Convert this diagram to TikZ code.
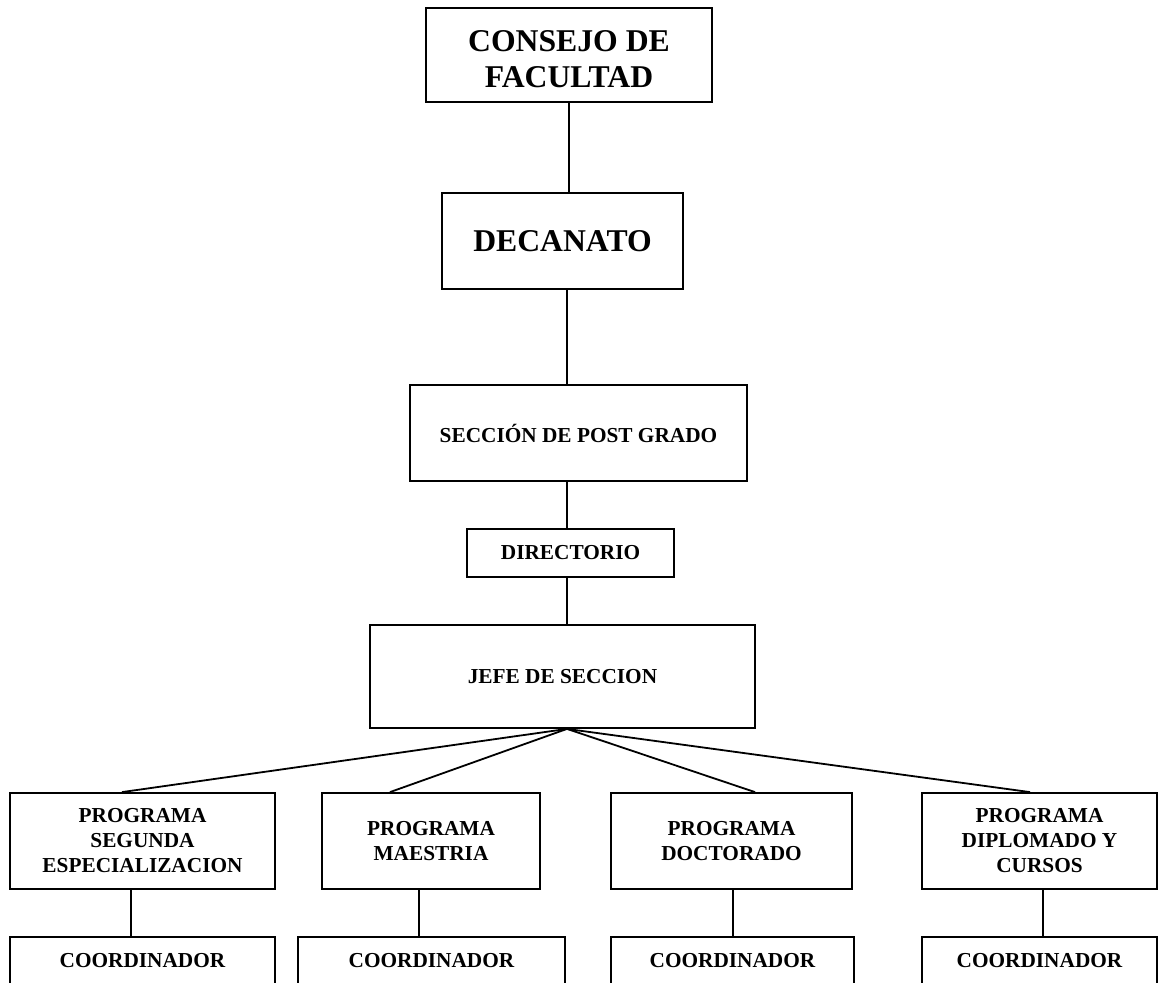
\documentclass[tikz,border=0pt]{standalone}
\usepackage{fontspec}
\setmainfont{Liberation Serif}
\tikzstyle{caja}=[draw,line width=1.8pt,inner sep=0pt,align=center,font=\bfseries\fontsize{21.3}{25}\selectfont]
\tikzstyle{grande}=[font=\bfseries\fontsize{31.7}{36}\selectfont]
\tikzstyle{linea}=[line width=1.8pt]

\begin{document}
\begin{tikzpicture}[x=1pt,y=-1pt]
  \useasboundingbox (0,0) rectangle (1158,982);
  \clip (0,0) rectangle (1158,982);
  \coordinate (eje) at (567,0);

  % cadena central
  \node[caja,grande,minimum width=286pt,minimum height=94pt] (consejo) at (569,55) {\rule{0pt}{30pt}CONSEJO DE\\FACULTAD};
  \node[caja,grande,minimum width=241pt,minimum height=96pt] (decanato) at (562.5,241) {DECANATO};
  \node[caja,minimum width=337pt,minimum height=96pt] (seccion) at (578.5,433) {SECCIÓN DE POST GRADO};
  \node[caja,minimum width=207pt,minimum height=48pt] (directorio) at (570.5,553) {DIRECTORIO};
  \node[caja,minimum width=385pt,minimum height=103pt] (jefe) at (562.5,676.5) {JEFE DE SECCION};

  % programas
  \node[caja,minimum width=265pt,minimum height=96pt] (p1) at (142.5,841) {PROGRAMA\\SEGUNDA\\ESPECIALIZACION};
  \node[caja,minimum width=218pt,minimum height=96pt] (p2) at (431,841) {PROGRAMA\\MAESTRIA};
  \node[caja,minimum width=241pt,minimum height=96pt] (p3) at (731.5,841) {PROGRAMA\\DOCTORADO};
  \node[caja,minimum width=235pt,minimum height=96pt] (p4) at (1039.5,841) {PROGRAMA\\DIPLOMADO Y\\CURSOS};

  % coordinadores (cortados abajo)
  \node[caja,minimum width=265pt,minimum height=48pt] (c1) at (142.5,961) {COORDINADOR};
  \node[caja,minimum width=267pt,minimum height=48pt] (c2) at (431.5,961) {COORDINADOR};
  \node[caja,minimum width=243pt,minimum height=48pt] (c3) at (732.5,961) {COORDINADOR};
  \node[caja,minimum width=235pt,minimum height=48pt] (c4) at (1039.5,961) {COORDINADOR};

  \draw[linea] (consejo.south) -- (consejo.south |- decanato.north);
  \draw[linea] (eje |- decanato.south) -- (eje |- seccion.north);
  \draw[linea] (eje |- seccion.south) -- (eje |- directorio.north);
  \draw[linea] (eje |- directorio.south) -- (eje |- jefe.north);

  \foreach \p/\d in {p1/-20.5,p2/-41,p3/23.5,p4/-9.5}
    \draw[linea] (eje |- jefe.south) -- ([xshift=\d pt]\p.north);
  \foreach \p/\c/\d in {p1/c1/-11.5,p2/c2/-12,p3/c3/1.5,p4/c4/3.5}
    \draw[linea] ([xshift=\d pt]\p.south) -- ([xshift=\d pt]\p.south |- \c.north);
\end{tikzpicture}
\end{document}
